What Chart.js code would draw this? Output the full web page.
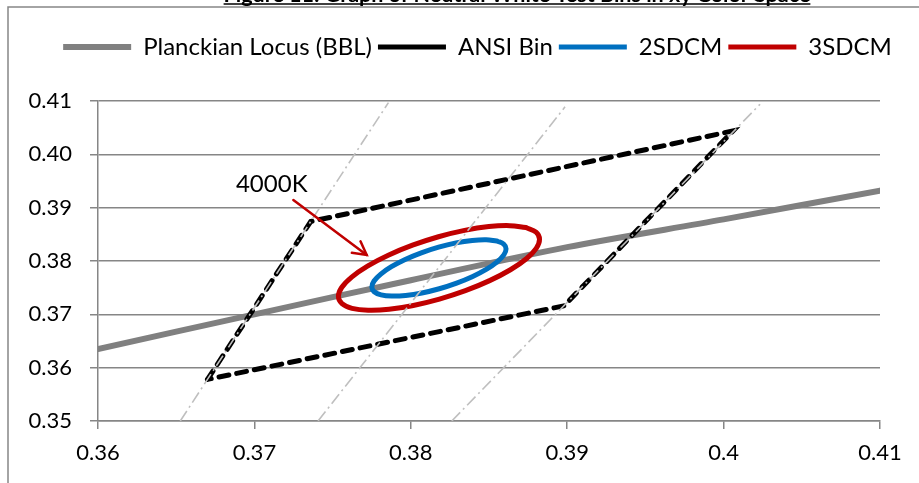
<!DOCTYPE html>
<html><head><meta charset="utf-8">
<script src="https://cdn.jsdelivr.net/npm/chart.js@4/dist/chart.umd.min.js"></script>
<style>html,body{margin:0;padding:0;background:#fff;}canvas{display:block}</style>
</head><body>
<canvas id="c" width="919" height="483"></canvas>
<script>
// ---------- data ----------
const chartTitle = 'Figure 11: Graph of Neutral White Test Bins in xy Color Space';
const seriesNames = ['Planckian Locus (BBL)', 'ANSI Bin', '2SDCM', '3SDCM'];

const bblX = [0.360, 0.370, 0.380, 0.390, 0.400, 0.410];
const bblY = [0.3635, 0.3700, 0.3764, 0.3826, 0.3878, 0.3932];

const ansiX = [0.3670, 0.3736, 0.4006, 0.3898, 0.3670];
const ansiY = [0.3578, 0.3874, 0.4044, 0.3716, 0.3578];

const sdcm2X = [0.38550,0.38482,0.38393,0.38289,0.38178,0.38067,0.37964,0.37876,0.37808,0.37765,0.37751,0.37766,0.37810,0.37878,0.37967,0.38071,0.38182,0.38293,0.38396,0.38485,0.38552,0.38595,0.38609,0.38594,0.38550];
const sdcm2Y = [0.38375,0.38399,0.38386,0.38339,0.38260,0.38154,0.38029,0.37893,0.37755,0.37625,0.37512,0.37424,0.37365,0.37342,0.37354,0.37401,0.37480,0.37586,0.37711,0.37847,0.37985,0.38115,0.38228,0.38317,0.38375];

const sdcm3X = [0.38736,0.38633,0.38499,0.38344,0.38177,0.38011,0.37856,0.37723,0.37622,0.37558,0.37537,0.37560,0.37624,0.37727,0.37861,0.38016,0.38183,0.38349,0.38504,0.38637,0.38739,0.38802,0.38823,0.38801,0.38736];
const sdcm3Y = [0.38627,0.38663,0.38645,0.38574,0.38455,0.38296,0.38108,0.37904,0.37698,0.37503,0.37333,0.37200,0.37113,0.37077,0.37095,0.37167,0.37286,0.37444,0.37632,0.37836,0.38043,0.38237,0.38407,0.38540,0.38627];

// CCT (isotemperature) guide lines: [bottom, top]
const cct1X = [0.36526, 0.37857]; const cct1Y = [0.350, 0.4097];
const cct2X = [0.37407, 0.38986]; const cct2Y = [0.350, 0.4089];
const cct3X = [0.38262, 0.40233]; const cct3Y = [0.350, 0.4094];

const xTicks = [0.36, 0.37, 0.38, 0.39, 0.40, 0.41];
const xTickLabels = ['0.36', '0.37', '0.38', '0.39', '0.4', '0.41'];
const yTicks = [0.35, 0.36, 0.37, 0.38, 0.39, 0.40, 0.41];
const yTickLabels = ['0.35', '0.36', '0.37', '0.38', '0.39', '0.40', '0.41'];

const annotText = '4000K';
const annotTextPos = [0.36882, 0.39294];
const arrowFrom = [0.37249, 0.39144];
const arrowTo = [0.37718, 0.38113];

// ---------- build ----------
const pts = (xs, ys) => xs.map((x, i) => ({x: x, y: ys[i]}));
const FONT = 'Lato, "Open Sans", sans-serif';
const GRID = '#868686';

const cctStyle = {borderColor: '#bfbfbf', borderWidth: 1.6, borderDash: [12, 4, 2, 4], pointRadius: 0, showLine: true, order: 1};

const decor = {
  id: 'decor',
  afterLayout(chart) {
    // place the legend row as in the original figure
    const lg = chart.legend;
    if (lg) { lg.left += 18; lg.right += 18; lg.top -= 32; lg.bottom -= 32; }
  },
  beforeDraw(chart) {
    const ctx = chart.ctx;
    ctx.save(); ctx.fillStyle = '#fff'; ctx.fillRect(0, 0, chart.width, chart.height); ctx.restore();
  },
  afterDatasetsDraw(chart) {
    const ctx = chart.ctx, xs = chart.scales.x, ys = chart.scales.y;
    const x0 = xs.getPixelForValue(arrowFrom[0]), y0 = ys.getPixelForValue(arrowFrom[1]);
    const x1 = xs.getPixelForValue(arrowTo[0]), y1 = ys.getPixelForValue(arrowTo[1]);
    ctx.save();
    ctx.strokeStyle = '#c00000'; ctx.lineWidth = 2.5; ctx.lineCap = 'round';
    ctx.beginPath(); ctx.moveTo(x0, y0); ctx.lineTo(x1, y1); ctx.stroke();
    const a = Math.atan2(y1 - y0, x1 - x0), L = 15, s = 0.5;
    ctx.beginPath();
    ctx.moveTo(x1 - L * Math.cos(a - s), y1 - L * Math.sin(a - s));
    ctx.lineTo(x1, y1);
    ctx.lineTo(x1 - L * Math.cos(a + s), y1 - L * Math.sin(a + s));
    ctx.stroke();
    ctx.fillStyle = '#000'; ctx.font = '24px ' + FONT; ctx.textAlign = 'left'; ctx.textBaseline = 'alphabetic';
    ctx.fillText(annotText, xs.getPixelForValue(annotTextPos[0]), ys.getPixelForValue(annotTextPos[1]));
    ctx.restore();
  },
  afterDraw(chart) {
    const ctx = chart.ctx;
    ctx.save();
    ctx.strokeStyle = GRID; ctx.lineWidth = 1.5;
    ctx.beginPath(); ctx.moveTo(8, chart.height); ctx.lineTo(8, 7); ctx.lineTo(chart.width, 7); ctx.stroke();
    ctx.font = 'bold 21.5px ' + FONT; ctx.fillStyle = '#000'; ctx.textAlign = 'center'; ctx.textBaseline = 'alphabetic';
    const cx = 517;
    ctx.fillText(chartTitle, cx, 2);
    const w = ctx.measureText(chartTitle).width;
    ctx.strokeStyle = '#000'; ctx.lineWidth = 1.5;
    ctx.beginPath(); ctx.moveTo(cx - w / 2, 4); ctx.lineTo(cx + w / 2, 4); ctx.stroke();
    ctx.restore();
  }
};

Chart.defaults.font.family = FONT;
Chart.defaults.color = '#000';

new Chart(document.getElementById('c'), {
  type: 'scatter',
  data: {
    datasets: [
      {label: seriesNames[0], data: pts(bblX, bblY), borderColor: '#808080', backgroundColor: '#808080', borderWidth: 6, borderCapStyle: 'round', showLine: true, pointRadius: 0, tension: 0.3, order: 5},
      {label: seriesNames[1], data: pts(ansiX, ansiY), borderColor: '#000', backgroundColor: '#000', borderWidth: 5, borderDash: [10, 8], borderCapStyle: 'round', showLine: true, pointRadius: 0, order: 4},
      {label: seriesNames[2], data: pts(sdcm2X, sdcm2Y), borderColor: '#0070c0', backgroundColor: '#0070c0', borderWidth: 5, borderCapStyle: 'round', showLine: true, pointRadius: 0, tension: 0.4, order: 2},
      {label: seriesNames[3], data: pts(sdcm3X, sdcm3Y), borderColor: '#c00000', backgroundColor: '#c00000', borderWidth: 5, borderCapStyle: 'round', showLine: true, pointRadius: 0, tension: 0.4, order: 3},
      Object.assign({label: 'cct1', data: pts(cct1X, cct1Y)}, cctStyle),
      Object.assign({label: 'cct2', data: pts(cct2X, cct2Y)}, cctStyle),
      Object.assign({label: 'cct3', data: pts(cct3X, cct3Y)}, cctStyle)
    ]
  },
  options: {
    responsive: false,
    animation: false,
    layout: {padding: {left: 0, right: 0, top: 27, bottom: 0}},
    plugins: {
      tooltip: {enabled: false},
      legend: {
        position: 'top', align: 'center',
        labels: {
          usePointStyle: true, pointStyle: 'line', pointStyleWidth: 68,
          font: {size: 24}, color: '#000', padding: 6,
          filter: (it) => it.datasetIndex < 4,
          sort: (a, b) => a.datasetIndex - b.datasetIndex
        }
      }
    },
    scales: {
      x: {
        type: 'linear', min: xTicks[0], max: xTicks[xTicks.length - 1],
        afterBuildTicks: (s) => { s.ticks = xTicks.map(v => ({value: v})); },
        afterFit: (s) => { s.height = 62; s.paddingRight = 39; },
        ticks: {callback: (v, i) => xTickLabels[i], font: {size: 22}, color: '#000', padding: 11, maxRotation: 0, autoSkip: false},
        grid: {drawOnChartArea: false, drawTicks: true, tickLength: 8, color: GRID, lineWidth: 1.5},
        border: {display: true, color: GRID, width: 1.5}
      },
      y: {
        type: 'linear', min: yTicks[0], max: yTicks[yTicks.length - 1],
        afterBuildTicks: (s) => { s.ticks = yTicks.map(v => ({value: v})); },
        afterFit: (s) => { s.width = 98; s.paddingTop = 101; },
        ticks: {callback: (v, i) => yTickLabels[i], font: {size: 22}, color: '#000', padding: 18, autoSkip: false},
        grid: {drawOnChartArea: true, drawTicks: true, tickLength: 8, color: GRID, lineWidth: 1.5},
        border: {display: true, color: GRID, width: 1.5}
      }
    }
  },
  plugins: [decor]
});
</script>
</body></html>
